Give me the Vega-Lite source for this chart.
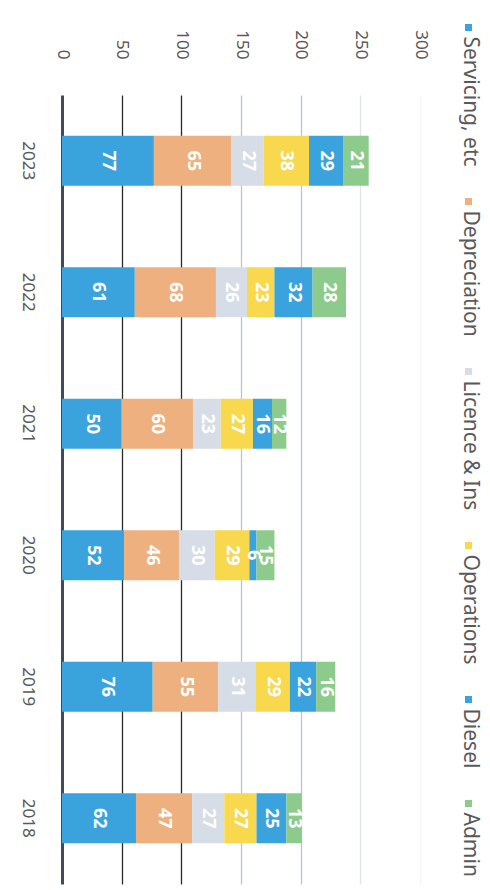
{
  "$schema": "https://vega.github.io/schema/vega-lite/v6.json",
  "width": 358,
  "height": 789,
  "autosize": {"type": "none"},
  "padding": {"left": 62, "top": 95, "right": 70, "bottom": 6},
  "background": "white",
  "config": {"view": {"stroke": null}, "font": "Noto Sans"},
  "data": {
    "values": [
      {"year": "2023", "category": "Servicing, etc", "value": 77},
      {"year": "2023", "category": "Depreciation", "value": 65},
      {"year": "2023", "category": "Licence & Ins", "value": 27},
      {"year": "2023", "category": "Operations", "value": 38},
      {"year": "2023", "category": "Diesel", "value": 29},
      {"year": "2023", "category": "Admin", "value": 21},
      {"year": "2022", "category": "Servicing, etc", "value": 61},
      {"year": "2022", "category": "Depreciation", "value": 68},
      {"year": "2022", "category": "Licence & Ins", "value": 26},
      {"year": "2022", "category": "Operations", "value": 23},
      {"year": "2022", "category": "Diesel", "value": 32},
      {"year": "2022", "category": "Admin", "value": 28},
      {"year": "2021", "category": "Servicing, etc", "value": 50},
      {"year": "2021", "category": "Depreciation", "value": 60},
      {"year": "2021", "category": "Licence & Ins", "value": 23},
      {"year": "2021", "category": "Operations", "value": 27},
      {"year": "2021", "category": "Diesel", "value": 16},
      {"year": "2021", "category": "Admin", "value": 12},
      {"year": "2020", "category": "Servicing, etc", "value": 52},
      {"year": "2020", "category": "Depreciation", "value": 46},
      {"year": "2020", "category": "Licence & Ins", "value": 30},
      {"year": "2020", "category": "Operations", "value": 29},
      {"year": "2020", "category": "Diesel", "value": 6},
      {"year": "2020", "category": "Admin", "value": 15},
      {"year": "2019", "category": "Servicing, etc", "value": 76},
      {"year": "2019", "category": "Depreciation", "value": 55},
      {"year": "2019", "category": "Licence & Ins", "value": 31},
      {"year": "2019", "category": "Operations", "value": 29},
      {"year": "2019", "category": "Diesel", "value": 22},
      {"year": "2019", "category": "Admin", "value": 16},
      {"year": "2018", "category": "Servicing, etc", "value": 62},
      {"year": "2018", "category": "Depreciation", "value": 47},
      {"year": "2018", "category": "Licence & Ins", "value": 27},
      {"year": "2018", "category": "Operations", "value": 27},
      {"year": "2018", "category": "Diesel", "value": 25},
      {"year": "2018", "category": "Admin", "value": 13}
    ]
  },
  "transform": [
    {"window": [{"op": "row_number", "as": "k"}], "groupby": ["year"]}
  ],
  "encoding": {
    "y": {
      "field": "year",
      "type": "nominal",
      "sort": ["2023", "2022", "2021", "2020", "2019", "2018"],
      "scale": {"paddingInner": 0.62, "paddingOuter": 0.31},
      "axis": {
        "title": null,
        "domain": false,
        "ticks": false,
        "grid": false,
        "labelAngle": 90,
        "labelAlign": "center",
        "labelBaseline": "middle",
        "labelPadding": 35,
        "labelFontSize": 17,
        "labelColor": "#595959"
      }
    },
    "x": {
      "field": "value",
      "type": "quantitative",
      "stack": "zero",
      "scale": {"domain": [0, 300]},
      "axis": {
        "orient": "top",
        "title": null,
        "values": [0, 50, 100, 150, 200, 250, 300],
        "domain": false,
        "ticks": false,
        "labelAngle": 90,
        "labelAlign": "right",
        "labelBaseline": "middle",
        "labelPadding": 36,
        "labelFontSize": 17,
        "labelColor": "#595959",
        "grid": true,
        "gridColor": {
          "condition": [
            {"test": "datum.value === 0", "value": "#3f4b5a"},
            {"test": "datum.value <= 100", "value": "#2a2a2a"},
            {"test": "datum.value <= 200", "value": "#b9c4d1"},
            {"test": "datum.value <= 250", "value": "#dfe4ea"}
          ],
          "value": "#f4f5f7"
        },
        "gridWidth": {
          "condition": {"test": "datum.value === 0", "value": 3},
          "value": 1.3
        }
      }
    },
    "order": {"field": "k", "type": "quantitative"}
  },
  "layer": [
    {
      "mark": {"type": "bar"},
      "encoding": {
        "color": {
          "field": "category",
          "type": "nominal",
          "scale": {
            "domain": ["Servicing, etc", "Depreciation", "Licence & Ins", "Operations", "Diesel", "Admin"],
            "range": ["#3AA3DD", "#EDB07E", "#D6DDE6", "#F8D84C", "#3AA3DD", "#8DCB8C"]
          },
          "legend": {
            "orient": "none",
            "legendX": 396,
            "legendY": -78,
            "title": null,
            "padding": 0,
            "symbolType": "square",
            "symbolSize": 49,
            "symbolStrokeWidth": 0,
            "labelFontSize": 21,
            "labelColor": "#595959",
            "labelLimit": 400,
            "labelOffset": -9.5,
            "rowPadding": 24,
            "encoding": {
              "labels": {"angle": {"value": 90}, "dx": {"value": 9}}
            }
          }
        }
      }
    },
    {
      "mark": {
        "type": "text",
        "angle": 90,
        "fill": "white",
        "fontWeight": "bold",
        "fontSize": 18,
        "align": "center",
        "baseline": "middle"
      },
      "encoding": {
        "x": {"field": "value", "type": "quantitative", "stack": "zero", "bandPosition": 0.5},
        "detail": {"field": "category", "type": "nominal"},
        "text": {"field": "value", "type": "quantitative"}
      }
    }
  ]
}
